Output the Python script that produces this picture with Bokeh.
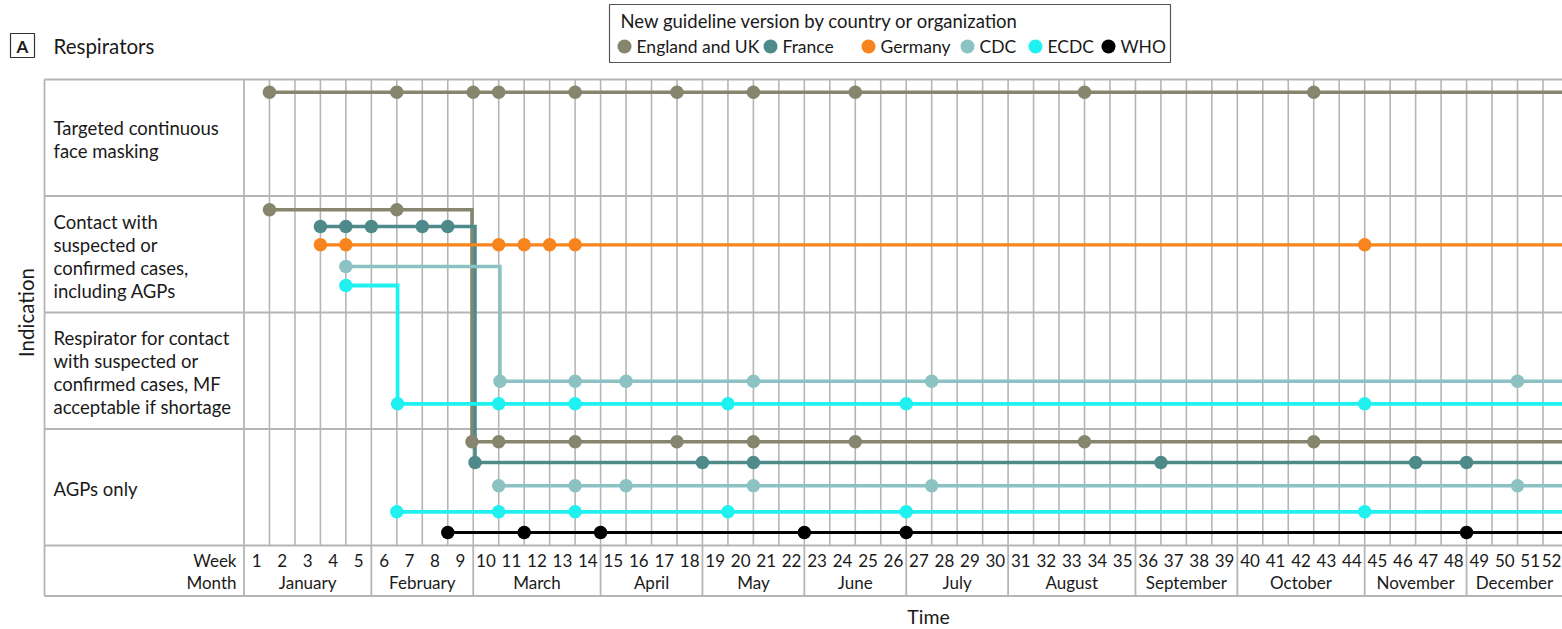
import math
from bokeh.plotting import figure
from bokeh.models import Range1d, ColumnDataSource
from bokeh.core.properties import value
from bokeh.embed import file_html
from bokeh.resources import INLINE

# ---------------- data ----------------
weeks = list(range(1, 53))
months = ["January", "February", "March", "April", "May", "June", "July",
          "August", "September", "October", "November", "December"]
month_last_week = [5, 9, 14, 18, 22, 26, 30, 35, 39, 44, 48, 52]

indications = [
    "Targeted continuous\nface masking",
    "Contact with\nsuspected or\nconfirmed cases,\nincluding AGPs",
    "Respirator for contact\nwith suspected or\nconfirmed cases, MF\nacceptable if shortage",
    "AGPs only",
]

organizations = ["England and UK", "France", "Germany", "CDC", "ECDC", "WHO"]
org_colors = ["#86866f", "#4f8a8b", "#f7841c", "#8cc2c3", "#1ff0f0", "#000000"]

# guideline versions (week of publication) per organization and indication row
england_face_masking = [1, 6, 9, 10, 13, 17, 20, 24, 33, 42]
england_contact = [1, 6]
england_agp = [9, 10, 13, 17, 20, 24, 33, 42]
france_contact = [3, 4, 5, 7, 8]
france_agp = [9, 18, 20, 36, 46, 48]
germany_contact = [3, 4, 10, 11, 12, 13, 44]
cdc_contact = [4]
cdc_mf = [10, 13, 15, 20, 27, 50]
cdc_agp = [10, 13, 15, 20, 27, 50]
ecdc_contact = [4]
ecdc_mf = [6, 10, 13, 19, 26, 44]
ecdc_agp = [6, 10, 13, 19, 26, 44]
who_agp = [8, 11, 14, 22, 26, 48]

# recommendation changes: org moves from one indication row to another in a week
switch_org = ["England and UK", "France", "CDC", "ECDC"]
switch_from_row = [1, 1, 1, 1]
switch_to_row = [3, 3, 2, 2]
switch_week = [9, 9, 10, 6]

tracks = [  # (organization, indication row, versions)
    ("England and UK", 0, england_face_masking),
    ("England and UK", 1, england_contact),
    ("France", 1, france_contact),
    ("Germany", 1, germany_contact),
    ("CDC", 1, cdc_contact),
    ("ECDC", 1, ecdc_contact),
    ("CDC", 2, cdc_mf),
    ("ECDC", 2, ecdc_mf),
    ("England and UK", 3, england_agp),
    ("France", 3, france_agp),
    ("CDC", 3, cdc_agp),
    ("ECDC", 3, ecdc_agp),
    ("WHO", 3, who_agp),
]

# ---------------- layout (page pixels) ----------------
W, H = 1562, 629
S = 25.47      # px per week
X0 = 243.5     # page x of week-grid start
RH = 116.5     # px per indication row
Y0 = 79.0      # page y of first row top
def X(px): return (px - X0) / S
def Y(py): return (py - Y0) / RH

lane_px = {  # vertical offset of each org's lane inside a row (px from row top)
    ("England and UK", 0): 12.7,
    ("England and UK", 1): 13.8, ("France", 1): 30.5, ("Germany", 1): 48.8,
    ("CDC", 1): 70.5, ("ECDC", 1): 89.5,
    ("CDC", 2): 68.7, ("ECDC", 2): 91.3,
    ("England and UK", 3): 12.8, ("France", 3): 33.5, ("CDC", 3): 56.8,
    ("ECDC", 3): 82.8, ("WHO", 3): 103.5,
}
def lane(org, row): return row + lane_px[(org, row)] / RH
nudge = {"England and UK": -0.05, "France": 0.07, "CDC": 0.05, "ECDC": 0.03}
lw = {"England and UK": 3.5, "France": 3.5, "Germany": 3.2, "CDC": 3.5, "ECDC": 3.8, "WHO": 3.2}

FONT = "Lato"
GRID = "#b5b5b5"
TXT = "#1a1a1a"
END = weeks[-1]

p = figure(width=W, height=H, x_range=Range1d(X(0), X(W)),
           y_range=Range1d(Y(H), Y(0)), output_backend="svg",
           toolbar_location=None, min_border=0,
           x_axis_location=None, y_axis_location=None)
p.grid.visible = False
p.outline_line_color = None
p.background_fill_color = "white"

n_rows = len(indications)
axis_bottom = Y(595.5)
left_edge = X(44)

# grid: week lines
p.segment(x0=weeks, y0=[0] * len(weeks), x1=weeks, y1=[n_rows] * len(weeks),
          line_color=GRID, line_width=1.6)
# week-0 line through axis area, left border
p.segment(x0=[0, left_edge], y0=[0, 0], x1=[0, left_edge], y1=[axis_bottom, axis_bottom],
          line_color=GRID, line_width=1.8)
# month boundaries in axis area
p.segment(x0=month_last_week, y0=[n_rows] * 12, x1=month_last_week, y1=[axis_bottom] * 12,
          line_color=GRID, line_width=1.8)
# horizontal row lines and bottom
hy = list(range(n_rows + 1)) + [axis_bottom]
p.segment(x0=[left_edge] * len(hy), y0=hy, x1=[END + 1] * len(hy), y1=hy,
          line_color=GRID, line_width=1.8)

# series lines
col = dict(zip(organizations, org_colors))
switch_map = {(o, fr): (to, wk) for o, fr, to, wk in zip(switch_org, switch_from_row, switch_to_row, switch_week)}
dest_map = {(o, to): wk for o, to, wk in zip(switch_org, switch_to_row, switch_week)}

for org, row, vers in tracks:
    y = lane(org, row)
    start = vers[0]
    if (org, row) in dest_map and start == dest_map[(org, row)]:
        start = start + nudge[org]
    if (org, row) in switch_map:
        to, wk = switch_map[(org, row)]
        xe = wk + nudge[org]
        xs_path = [start, xe, xe]
        ys_path = [y, y, lane(org, to)]
    else:
        xs_path = [start, END + 1]
        ys_path = [y, y]
    p.line(xs_path, ys_path, line_color=col[org], line_width=lw[org], line_join="miter")

# dots
for org in organizations:
    xs, ys = [], []
    for o, row, vers in tracks:
        if o != org:
            continue
        for v in vers:
            xv = v
            if (o, row) in dest_map and v == dest_map[(o, row)]:
                xv = v + nudge[o]
            xs.append(xv)
            ys.append(lane(o, row))
    src = ColumnDataSource(dict(x=xs, y=ys))
    p.scatter("x", "y", source=src, size=13.5, fill_color=col[org], line_color=None)

# row labels
p.text(x=[X(53)] * n_rows, y=[r + 0.5 + 2.0 / RH for r in range(n_rows)], text=indications,
       text_font=value(FONT), text_font_size="18.5px", text_color=TXT,
       text_align="left", text_baseline="middle", text_line_height=1.04)

# week and month labels
week_x = [min(w - 0.5, X(W - 11)) for w in weeks]
p.text(x=week_x, y=[Y(559.5)] * len(weeks), text=[str(w) for w in weeks],
       text_font=value(FONT), text_font_size="17px", text_color=TXT,
       text_align="center", text_baseline="middle")
month_first = [0] + month_last_week[:-1]
month_x = [min((a + b) / 2, X(W - 48)) for a, b in zip(month_first, month_last_week)]
p.text(x=month_x, y=[Y(581.5)] * 12,
       text=months, text_font=value(FONT), text_font_size="17px", text_color=TXT,
       text_align="center", text_baseline="middle")
p.text(x=[X(236)] * 2, y=[Y(559.5), Y(581.5)], text=["Week", "Month"],
       text_font=value(FONT), text_font_size="17px", text_color=TXT,
       text_align="right", text_baseline="middle")

# axis titles
p.text(x=[X(25)], y=[Y(312)], text=["Indication"], angle=math.pi / 2,
       text_font=value(FONT), text_font_size="20.5px", text_color=TXT,
       text_align="center", text_baseline="middle")
p.text(x=[X(928)], y=[Y(616)], text=["Time"],
       text_font=value(FONT), text_font_size="19.5px", text_color=TXT,
       text_align="center", text_baseline="middle")

# panel label
p.quad(left=[X(10)], right=[X(34)], top=[Y(33)], bottom=[Y(57)],
       fill_color="white", line_color="#333333", line_width=1.2)
p.text(x=[X(22)], y=[Y(45.5)], text=["A"], text_font=value(FONT), text_font_size="17px",
       text_font_style="bold", text_color=TXT, text_align="center", text_baseline="middle")
p.text(x=[X(53)], y=[Y(45)], text=["Respirators"], text_font=value(FONT),
       text_font_size="20.5px", text_color=TXT, text_align="left", text_baseline="middle")

# legend box
p.quad(left=[X(609)], right=[X(1170)], top=[Y(4)], bottom=[Y(62)],
       fill_color="white", line_color="#555555", line_width=1.2)
p.text(x=[X(620)], y=[Y(20)], text=["New guideline version by country or organization"],
       text_font=value(FONT), text_font_size="18.5px", text_color=TXT,
       text_align="left", text_baseline="middle")
leg_dot_px = [624, 770, 868, 967, 1035, 1108]
leg_txt_px = [636, 782, 880, 979, 1047, 1120]
p.scatter(x=[X(v) for v in leg_dot_px], y=[Y(46)] * 6, size=14,
          fill_color=org_colors, line_color=None)
p.text(x=[X(v) for v in leg_txt_px], y=[Y(46)] * 6, text=organizations,
       text_font=value(FONT), text_font_size="17.5px", text_color=TXT,
       text_align="left", text_baseline="middle")

open("out.html", "w").write(file_html(p, INLINE))
